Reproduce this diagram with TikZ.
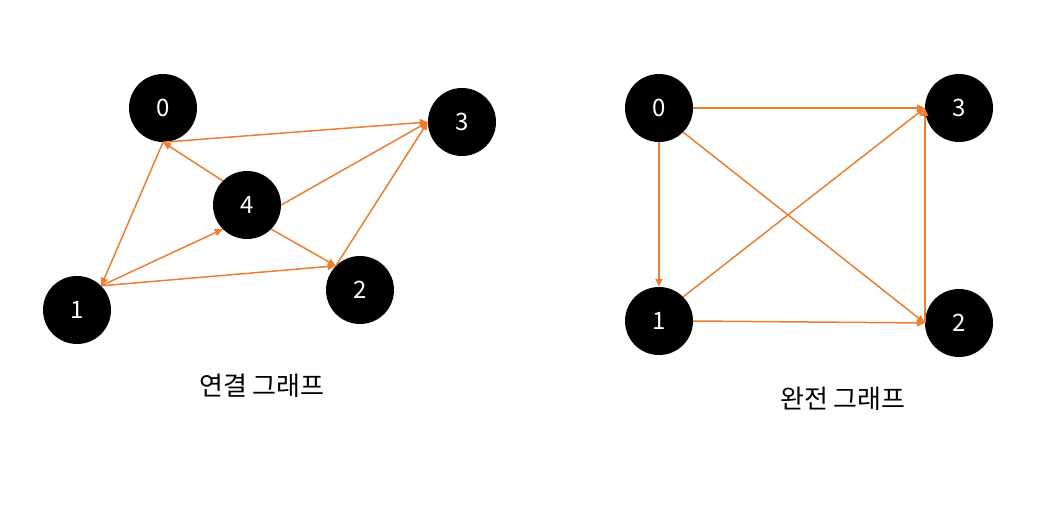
\documentclass[tikz,border=0pt]{standalone}
\usepackage{fontspec}
\setmainfont{Noto Sans CJK KR}
\usetikzlibrary{arrows.meta}
\definecolor{edgeorange}{RGB}{237,125,49}
\tikzset{
  vertex/.style={circle, fill=black, draw=none, minimum size=68pt, inner sep=0pt,
    text=white, font=\fontsize{24}{28}\selectfont},
  arc/.style={draw=edgeorange, line width=1.5pt, -{Triangle[width=7pt,length=8pt]}},
  caption/.style={font=\fontsize{26}{30}\selectfont}
}

\begin{document}
\begin{tikzpicture}[x=1pt, y=-1pt]
    \useasboundingbox (0,0) rectangle (1044,529);

    % connected graph
    \node[vertex] (l0) at (163,108) {0};
    \node[vertex] (l3) at (462,122) {3};
    \node[vertex] (l4) at (247,205) {4};
    \node[vertex] (l1) at (77,310) {1};
    \node[vertex] (l2) at (360,290) {2};

    \draw[arc] (l0.south) -- (l3.west);
    \draw[arc] (l4.north west) -- (l0.south);
    \draw[arc] (l0.south) -- (l1.north east);
    \draw[arc] (l1.north east) -- (l4.south west);
    \draw[arc] (l1.north east) -- (l2.north west);
    \draw[arc] (l4.south east) -- (l2.north west);
    \draw[arc] (l4.east) -- (l3.west);
    \draw[arc] (l2.north west) -- (l3.west);

    \node[caption] (lcap) at (262,386) {연결 그래프};

    % complete graph
    \node[vertex] (r0) at (659,108) {0};
    \node[vertex] (r3) at (959,108) {3};
    \node[vertex] (r1) at (659,321) {1};
    \node[vertex] (r2) at (959,323) {2};

    \draw[arc] (r0.east) -- (r3.west);
    \draw[arc] (r0.south) -- (r1.north);
    \draw[arc] (r0.south east) -- (r2.west);
    \draw[arc] (r1.north east) -- (r3.west);
    \draw[arc] (r1.east) -- (r2.west);
    \draw[arc] (r2.west) -- (r3.west);

    \node[caption] (rcap) at (843,399) {완전 그래프};
\end{tikzpicture}
\end{document}
